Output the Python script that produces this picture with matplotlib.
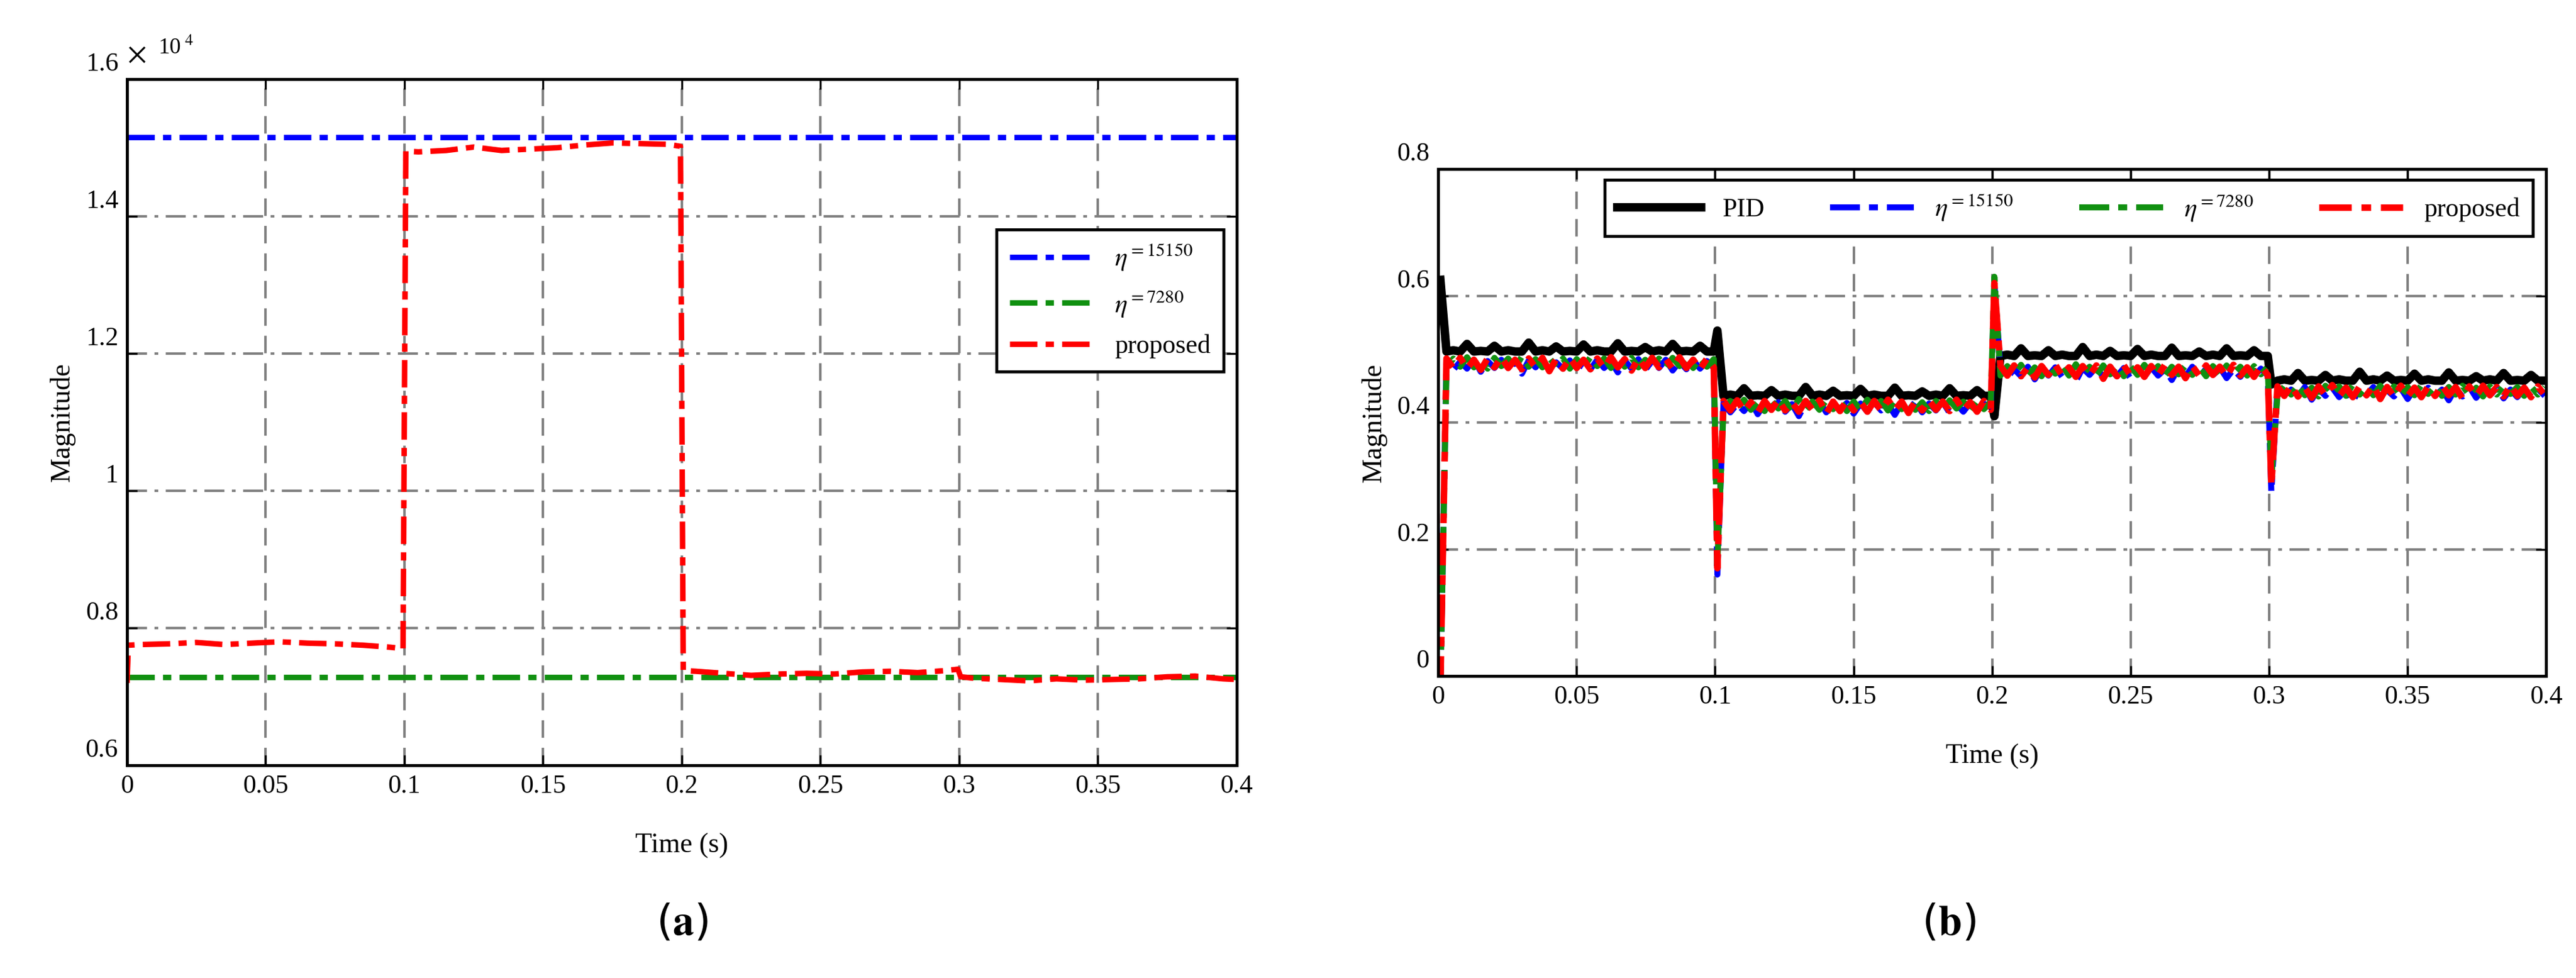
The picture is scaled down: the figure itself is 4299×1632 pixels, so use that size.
import numpy as np
import matplotlib
matplotlib.use("Agg")
import matplotlib.pyplot as plt
import matplotlib.transforms as mtransforms

plt.rcParams['font.family'] = ['Liberation Serif', 'DejaVu Serif']
plt.rcParams['mathtext.fontset'] = 'stix'

# ---------- panel (a) data ----------
a_eta1 = 15150
a_eta2 = 7280
a_t = [0.0, 0.0005, 0.005, 0.015, 0.025, 0.035, 0.045, 0.055, 0.065, 0.075, 0.085, 0.095, 0.0995,
       0.1005, 0.105, 0.115, 0.125, 0.135, 0.145, 0.155, 0.165, 0.175, 0.185, 0.195, 0.1995,
       0.2005, 0.205, 0.215, 0.225, 0.235, 0.245, 0.255, 0.265, 0.275, 0.285, 0.295, 0.2995,
       0.3005, 0.305, 0.315, 0.325, 0.335, 0.345, 0.355, 0.365, 0.375, 0.385, 0.395, 0.4]
a_prop = [7200, 7750, 7760, 7770, 7790, 7760, 7780, 7800, 7780, 7770, 7750, 7720, 7700,
          14950, 14940, 14960, 15010, 14960, 14980, 15000, 15040, 15070, 15060, 15050, 15020,
          7380, 7370, 7340, 7310, 7330, 7340, 7330, 7360, 7370, 7350, 7380, 7400,
          7290, 7270, 7250, 7230, 7260, 7240, 7250, 7260, 7290, 7300, 7260, 7250]

# ---------- panel (b) data ----------
b_bounds = [0.0, 0.1, 0.2, 0.3, 0.4]
b_pid_level = [0.512, 0.442, 0.505, 0.466]
b_blu_level = [0.492, 0.425, 0.480, 0.448]
b_grn_level = [0.494, 0.427, 0.482, 0.450]
b_red_level = [0.493, 0.426, 0.481, 0.449]
b_jit_pid = [0, 0.002, 0, 0.012, 0, 0.001, 0, 0.009, 0, 0.002, 0, 0, 0.014, 0, 0.002, 0, 0.008, 0, 0.001, 0,
             0.011, 0, 0.002, 0, 0, 0.013, 0, 0.001, 0, 0.007, 0, 0.002, 0, 0.012, 0, 0.001, 0, 0.009, 0, 0]
b_jit_blu = [0.006, -0.009, 0.004, -0.007, 0.008, -0.012, 0.005, -0.006, 0.007, -0.008, 0.004, -0.015, 0.006, -0.005, 0.008, -0.009, 0.003, -0.007, 0.006, -0.011,
             0.005, -0.008, 0.007, -0.006, 0.004, -0.013, 0.006, -0.007, 0.008, -0.009, 0.005, -0.006, 0.007, -0.01, 0.004, -0.008, 0.006, -0.007, 0.005, -0.006]
b_jit_grn = [-0.008, 0.007, -0.006, 0.009, -0.007, 0.005, -0.009, 0.008, -0.005, 0.007, -0.008, 0.01, -0.006, 0.006, -0.007, 0.008, -0.006, 0.007, -0.009, 0.006,
             -0.007, 0.009, -0.005, 0.007, -0.008, 0.006, -0.006, 0.008, -0.007, 0.005, -0.009, 0.007, -0.006, 0.008, -0.005, 0.006, -0.008, 0.007, -0.006, 0.006]
b_jit_red = [0.008, -0.007, 0.009, -0.008, 0.006, -0.01, 0.008, -0.006, 0.01, -0.007, 0.006, -0.009, 0.008, -0.006, 0.009, -0.012, 0.007, -0.008, 0.009, -0.007,
             0.006, -0.009, 0.008, -0.007, 0.01, -0.006, 0.007, -0.011, 0.008, -0.007, 0.009, -0.006, 0.007, -0.008, 0.01, -0.007, 0.006, -0.009, 0.008, -0.006]
b_pid_spike = [0.625, 0.545, 0.41, 0.46]
b_blu_spike = [-0.02, 0.16, 0.62, 0.29]
b_grn_spike = [-0.02, 0.18, 0.63, 0.31]
b_red_spike = [-0.02, 0.17, 0.62, 0.30]


def build(levels, jit, spikes):
    ts, vs = [], []
    for k in range(4):
        t0, t1 = b_bounds[k], b_bounds[k + 1]
        ts.append(t0 + 0.0008); vs.append(spikes[k])
        n = len(jit)
        tt = np.linspace(t0 + 0.003, t1 - 0.0005, n)
        ts += list(tt); vs += [levels[k] + j for j in jit]
    return ts, vs


fig = plt.figure(figsize=(14.33, 5.44), dpi=300)
axa = fig.add_axes([0.0493, 0.2175, 0.4308, 0.7016])
axb = fig.add_axes([0.5583, 0.3088, 0.4301, 0.5184])

grid_kw_h = dict(color='#808080', lw=1.0, ls=(0, (8, 3, 1.5, 3)))
grid_kw_v = dict(color='#808080', lw=1.0, ls=(0, (7, 4)))

for ax in (axa, axb):
    ax.tick_params(direction='in', top=True, right=True, labelsize=10.5, length=4)
    for s in ax.spines.values():
        s.set_linewidth(1.2)
    ax.set_xlim(0, 0.4)
    ax.set_xticks([0, 0.05, 0.1, 0.15, 0.2, 0.25, 0.3, 0.35, 0.4])
    ax.set_xticklabels(['0', '0.05', '0.1', '0.15', '0.2', '0.25', '0.3', '0.35', '0.4'])
    ax.set_xlabel('Time (s)', fontsize=11, labelpad=14)
    ax.set_ylabel('Magnitude', fontsize=11)

dd = (0, (5, 1.5, 1.5, 1.5))
# panel (a)
axa.plot([0, 0.4], [a_eta1, a_eta1], color='#0000ff', lw=2.2, ls=dd, label=r'$\eta^{=15150}$')
axa.plot([0, 0.4], [a_eta2, a_eta2], color='#109010', lw=2.2, ls=dd, label=r'$\eta^{=7280}$')
axa.plot(a_t, a_prop, color='#ff0000', lw=2.2, ls=dd, label='proposed')
axa.set_ylim(6000, 16000)
axa.set_yticks([6000, 8000, 10000, 12000, 14000, 16000])
axa.set_yticklabels(['0.6', '0.8', '1', '1.2', '1.4', '1.6'])
for y in [8000, 10000, 12000, 14000]:
    axa.axhline(y, zorder=0, **grid_kw_h)
for x in [0.05, 0.1, 0.15, 0.2, 0.25, 0.3, 0.35]:
    axa.axvline(x, zorder=0, **grid_kw_v)
axa.text(0.0, 1.015, r'$\times$', transform=axa.transAxes, fontsize=12, ha='left', va='bottom')
axa.text(0.028, 1.03, r'10$^{\ 4}$', transform=axa.transAxes, fontsize=9, ha='left', va='bottom')
la = axa.legend(loc='upper right', bbox_to_anchor=(1.0, 0.80), fancybox=False, framealpha=1,
                edgecolor='black', fontsize=10.5, handlelength=3.2, borderpad=0.5, labelspacing=0.6)
la.get_frame().set_linewidth(1.2)

# panel (b)
for lev, jit, sp, col, lw, ls, lab in [
        (b_pid_level, b_jit_pid, b_pid_spike, 'black', 3.4, '-', 'PID'),
        (b_blu_level, b_jit_blu, b_blu_spike, '#0000ff', 2.4, dd, r'$\eta^{=15150}$'),
        (b_grn_level, b_jit_grn, b_grn_spike, '#109010', 2.4, dd, r'$\eta^{=7280}$'),
        (b_red_level, b_jit_red, b_red_spike, '#ff0000', 2.6, dd, 'proposed')]:
    t, v = build(lev, jit, sp)
    axb.plot(t, v, color=col, lw=lw, ls=ls, label=lab)
axb.set_ylim(0, 0.8)
axb.set_yticks([0, 0.2, 0.4, 0.6, 0.8])
axb.set_yticklabels(['0', '0.2', '0.4', '0.6', '0.8'])
for y in [0.2, 0.4, 0.6]:
    axb.axhline(y, zorder=0, **grid_kw_h)
for x in [0.05, 0.1, 0.15, 0.2, 0.25, 0.3, 0.35]:
    axb.axvline(x, zorder=0, **grid_kw_v)
lb = axb.legend(loc='upper right', bbox_to_anchor=(1.0, 1.005), ncol=4, fancybox=False, framealpha=1,
                edgecolor='black', fontsize=10.5, handlelength=3.2, borderpad=0.5, columnspacing=2.5)
lb.get_frame().set_linewidth(1.2)

# tick labels shifted upward like the original
off = mtransforms.ScaledTranslation(0, 7 / 72, fig.dpi_scale_trans)
for ax in (axa, axb):
    for lbl in ax.get_yticklabels():
        lbl.set_transform(lbl.get_transform() + off)

fig.text(0.2647, 0.035, r'($\mathbf{a}$)', ha='center', va='bottom', fontsize=17, family='DejaVu Sans')
fig.text(0.7565, 0.035, r'($\mathbf{b}$)', ha='center', va='bottom', fontsize=17, family='DejaVu Sans')

fig.savefig('out.png', dpi=300)
